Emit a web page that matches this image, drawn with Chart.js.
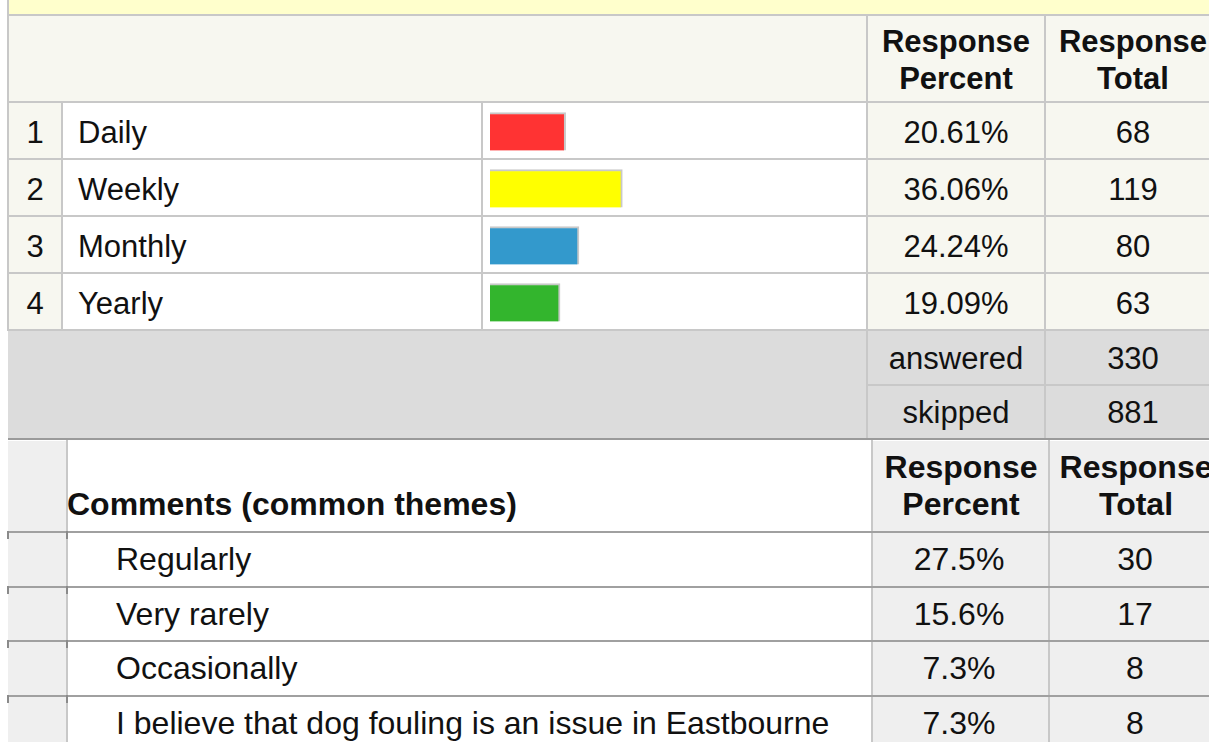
<!DOCTYPE html>
<html lang="en">
<head>
  <meta charset="UTF-8">
  <title>Frequency of responses</title>
  <script src="https://cdn.jsdelivr.net/npm/chart.js"></script>
  <style>
    html, body { margin: 0; padding: 0; background: #fff; }
    body { width: 1209px; height: 742px; overflow: hidden; position: relative;
           font-family: "Liberation Sans", Arial, sans-serif; color: #111; }
    .r { position: absolute; }
    .t { position: absolute; display: flex; align-items: center; font-size: 31px;
         white-space: nowrap; box-sizing: border-box; }
    .big { font-size: 32px; }
    .c { justify-content: center; text-align: center; }
    .b { font-weight: bold; }
    #chartBox { position: absolute; left: 482px; top: 103px; width: 385px; height: 228px; }
  </style>
</head>
<body>
  <div id="chartBox"><canvas id="myChart" width="385" height="228"></canvas></div>

  <script>
    // datos de la tabla
    var categorias = ['Daily', 'Weekly', 'Monthly', 'Yearly'];
    var porcentajes = [20.61, 36.06, 24.24, 19.09];
    var totales = [68, 119, 80, 63];
    var respondidas = 330;
    var omitidas = 881;

    var temas = ['Regularly', 'Very rarely', 'Occasionally', 'I believe that dog fouling is an issue in Eastbourne'];
    var temasPorcentaje = [27.5, 15.6, 7.3, 7.3];
    var temasTotal = [30, 17, 8, 8];

    var body = document.body;

    function rect(x, y, w, h, color) {
      var d = document.createElement('div');
      d.className = 'r';
      d.style.cssText = 'left:' + x + 'px;top:' + y + 'px;width:' + w + 'px;height:' + h + 'px;background:' + color;
      body.insertBefore(d, document.getElementById('chartBox'));
    }

    function texto(x, y, w, h, str, cls, extra) {
      var d = document.createElement('div');
      d.className = 't ' + (cls || '');
      d.style.cssText = 'left:' + x + 'px;top:' + y + 'px;width:' + w + 'px;height:' + h + 'px;' + (extra || '');
      d.innerHTML = str;
      body.appendChild(d);
    }

    // ---- fondos tabla superior
    rect(8, 0, 1201, 15, '#ffffcc');
    rect(8, 16, 1201, 86, '#f7f7f0');
    var filaTop = [103, 160, 217, 274];
    filaTop.forEach(function (y) {
      rect(8, y, 54, 56, '#f7f7f0');
      rect(63, y, 419, 56, '#ffffff');
      rect(483, y, 384, 56, '#ffffff');
      rect(868, y, 341, 56, '#f7f7f0');
    });
    // zona gris answered / skipped
    rect(8, 331, 1201, 109, '#dcdcdc');
    // tabla inferior
    rect(8, 441, 59, 301, '#efefef');
    rect(68, 441, 804, 301, '#ffffff');
    rect(873, 441, 336, 301, '#efefef');

    // ---- lineas
    var gris = '#c8c8c8';
    rect(8, 14, 1201, 2, gris);
    [101, 158, 215, 272, 329].forEach(function (y) { rect(8, y, 1201, 2, gris); });
    rect(7, 0, 2, 331, gris);
    rect(61, 102, 2, 229, gris);
    rect(481, 102, 2, 229, gris);
    rect(866, 15, 2, 425, gris);
    rect(1044, 15, 2, 425, gris);
    rect(868, 384, 341, 2, gris);
    rect(8, 438, 1201, 2, '#9a9a9a');
    rect(66, 440, 2, 302, gris);
    rect(871, 440, 2, 302, gris);
    rect(1048, 440, 2, 302, gris);
    [531, 586, 640, 695].forEach(function (y) {
      rect(8, y, 1201, 2, '#a0a0a0');
      rect(7, y, 2, 8, '#8a8a8a');
      rect(66, y, 2, 8, '#8a8a8a');
    });

    // ---- textos tabla superior
    texto(867, 23, 178, 74, 'Response<br>Percent', 'c b', 'line-height:37px;');
    texto(1045, 23, 176, 74, 'Response<br>Total', 'c b', 'line-height:37px;');
    categorias.forEach(function (cat, i) {
      var y = filaTop[i] - 1;
      texto(8, y, 54, 57, String(i + 1), 'c', 'padding-top:4px;');
      texto(78, y, 400, 57, cat, '', 'padding-top:4px;');
      texto(867, y, 178, 57, porcentajes[i].toFixed(2) + '%', 'c', 'padding-top:4px;');
      texto(1045, y, 176, 57, String(totales[i]), 'c', 'padding-top:4px;');
    });
    texto(867, 331, 178, 54, 'answered', 'c', 'padding-top:2px;');
    texto(1045, 331, 176, 54, String(respondidas), 'c', 'padding-top:2px;');
    texto(867, 386, 178, 53, 'skipped', 'c');
    texto(1045, 386, 176, 53, String(omitidas), 'c');

    // ---- textos tabla inferior
    texto(67, 486, 700, 36, 'Comments (common themes)', 'b big', 'line-height:36px;');
    texto(872, 449, 178, 74, 'Response<br>Percent', 'c b big', 'line-height:37px;');
    texto(1050, 449, 172, 74, 'Response<br>Total', 'c b big', 'line-height:37px;');
    var filaBot = [532, 587, 641, 696];
    temas.forEach(function (tema, i) {
      var y = filaBot[i];
      texto(116, y, 750, 55, tema, 'big');
      texto(870, y, 178, 55, temasPorcentaje[i].toFixed(1) + '%', 'c big');
      texto(1050, y, 170, 55, String(temasTotal[i]), 'c big');
    });

    // ---- barras con Chart.js
    var ctx = document.getElementById('myChart').getContext('2d');
    var myChart = new Chart(ctx, {
      type: 'bar',
      data: {
        labels: categorias,
        datasets: [{
          data: porcentajes,
          backgroundColor: ['#ff3333', '#ffff00', '#3399cc', '#33b52d'],
          borderColor: '#c8c8c8',
          borderWidth: { top: 2, right: 2, bottom: 0, left: 0 },
          borderSkipped: false,
          barThickness: 38
        }]
      },
      options: {
        indexAxis: 'y',
        responsive: false,
        animation: false,
        devicePixelRatio: 1,
        layout: { padding: { left: 8, right: 10, top: 0, bottom: 0 } },
        plugins: { legend: { display: false }, tooltip: { enabled: false } },
        scales: {
          x: { min: 0, max: 100, display: false },
          y: { display: false }
        }
      }
    });
  </script>
</body>
</html>
